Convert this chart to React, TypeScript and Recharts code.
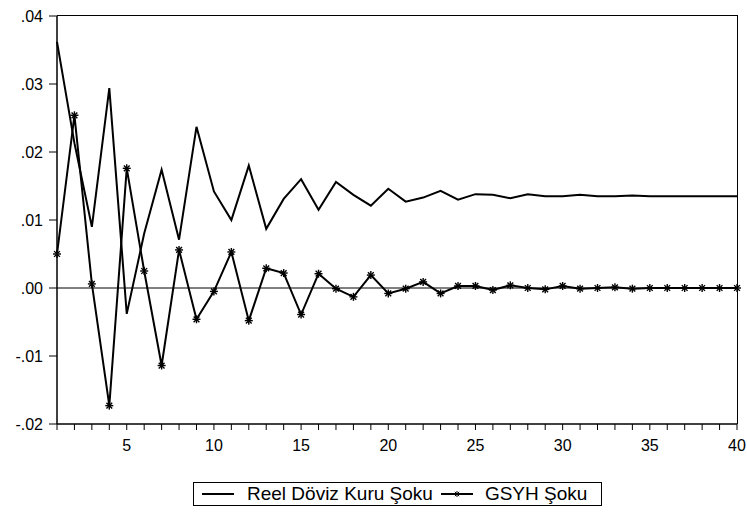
import React from 'react'
import { LineChart, Line, XAxis, YAxis, ReferenceLine, Legend } from 'recharts'

const periods = [
  1, 2, 3, 4, 5, 6, 7, 8, 9, 10, 11, 12, 13, 14, 15, 16, 17, 18, 19, 20,
  21, 22, 23, 24, 25, 26, 27, 28, 29, 30, 31, 32, 33, 34, 35, 36, 37, 38, 39, 40,
]

const reelDovizKuru = [
  0.0362, 0.0213, 0.009, 0.0294, -0.0038, 0.008, 0.0174, 0.0071, 0.0237, 0.0142,
  0.01, 0.018, 0.0087, 0.0131, 0.016, 0.0115, 0.0156, 0.0137, 0.0121, 0.0146,
  0.0127, 0.0133, 0.0143, 0.013, 0.0138, 0.0137, 0.0132, 0.0138, 0.0135, 0.0135,
  0.0137, 0.0135, 0.0135, 0.0136, 0.0135, 0.0135, 0.0135, 0.0135, 0.0135, 0.0135,
]

const gsyh = [
  0.005, 0.0254, 0.0006, -0.0173, 0.0176, 0.0025, -0.0114, 0.0056, -0.0046, -0.0005,
  0.0053, -0.0048, 0.0029, 0.0022, -0.0039, 0.0021, -0.0001, -0.0013, 0.0019, -0.0008,
  -0.0001, 0.0009, -0.0008, 0.0003, 0.0003, -0.0003, 0.0004, 0.0, -0.0002, 0.0003,
  -0.0001, 0.0, 0.0001, -0.0001, 0.0, 0.0, 0.0, 0.0, 0.0, 0.0,
]

const yTicks = [-0.02, -0.01, 0, 0.01, 0.02, 0.03, 0.04]
const xTicks = periods

const seriesNames = ['Reel Döviz Kuru Şoku', 'GSYH Şoku']

const data = periods.map((p, i) => ({ period: p, reel: reelDovizKuru[i], gsyh: gsyh[i] }))

const FONT = '"Liberation Sans", Arial, sans-serif'

// eviews style asterisk marker
const Star = ({ cx, cy, r = 4, sw = 1.4 }: { cx?: number; cy?: number; r?: number; sw?: number }) => {
  if (cx == null || cy == null) return null
  const d = r * 0.72
  return (
    <g stroke="#000" strokeWidth={sw}>
      <line x1={cx - r} y1={cy} x2={cx + r} y2={cy} />
      <line x1={cx} y1={cy - r} x2={cx} y2={cy + r} />
      <line x1={cx - d} y1={cy - d} x2={cx + d} y2={cy + d} />
      <line x1={cx - d} y1={cy + d} x2={cx + d} y2={cy - d} />
    </g>
  )
}

const fmtY = (v: number) => {
  if (v === 0) return '.00'
  const s = v.toFixed(2)
  return s.replace('0.', '.')
}

const LegendBox = () => (
  <div
    style={{
      boxSizing: 'border-box',
      height: 24,
      border: '1px solid #000',
      display: 'flex',
      alignItems: 'center',
      fontFamily: FONT,
      fontSize: 19,
      color: '#000',
      paddingLeft: 8,
      whiteSpace: 'nowrap',
      background: '#fff',
    }}
  >
    <svg width={32} height={10}>
      <line x1={0} y1={5} x2={32} y2={5} stroke="#000" strokeWidth={2} />
    </svg>
    <span style={{ marginLeft: 13 }}>{seriesNames[0]}</span>
    <svg width={32} height={10} style={{ marginLeft: 8 }}>
      <line x1={0} y1={5} x2={32} y2={5} stroke="#000" strokeWidth={2} />
      <Star cx={16} cy={5} r={3} sw={1} />
    </svg>
    <span style={{ marginLeft: 12 }}>{seriesNames[1]}</span>
  </div>
)

export default function App() {
  return (
    <div style={{ position: 'absolute', left: 0, top: 0, width: 747, height: 515, background: '#fff' }}>
      <LineChart width={747} height={515} data={data} margin={{ top: 16, right: 10, left: 0, bottom: 9 }}>
        <XAxis
          dataKey="period"
          type="number"
          domain={[1, 40]}
          ticks={xTicks}
          interval={0}
          tickFormatter={(v: number) => (v % 5 === 0 ? String(v) : '')}
          axisLine={{ stroke: '#000', strokeWidth: 1.5 }}
          tickLine={{ stroke: '#000' }}
          tickSize={6}
          tickMargin={10}
          height={58}
          tick={{ fill: '#000', fontSize: 16, fontFamily: FONT }}
        />
        <YAxis
          type="number"
          domain={[-0.02, 0.04]}
          ticks={yTicks}
          interval={0}
          tickFormatter={fmtY}
          axisLine={{ stroke: '#000', strokeWidth: 1.5 }}
          tickLine={{ stroke: '#000' }}
          tickSize={8}
          tickMargin={6}
          width={57}
          tick={{ fill: '#000', fontSize: 16, fontFamily: FONT }}
        />
        <ReferenceLine y={0} stroke="#000" strokeWidth={1} />
        <Line
          dataKey="reel"
          name={seriesNames[0]}
          stroke="#000"
          strokeWidth={2}
          dot={false}
          isAnimationActive={false}
        />
        <Line
          dataKey="gsyh"
          name={seriesNames[1]}
          stroke="#000"
          strokeWidth={2}
          dot={(props: any) => <Star key={props.index} cx={props.cx} cy={props.cy} />}
          isAnimationActive={false}
        />
        <Legend
          verticalAlign="bottom"
          height={24}
          content={() => <LegendBox />}
          wrapperStyle={{ left: 193, width: 409, bottom: 9 }}
        />
      </LineChart>
      {/* top and right edges of the plot frame */}
      <div
        style={{
          position: 'absolute',
          left: 57,
          top: 15.25,
          width: 680.75,
          height: 408.75,
          boxSizing: 'border-box',
          borderTop: '1.5px solid #000',
          borderRight: '1.5px solid #000',
          pointerEvents: 'none',
        }}
      />
    </div>
  )
}
